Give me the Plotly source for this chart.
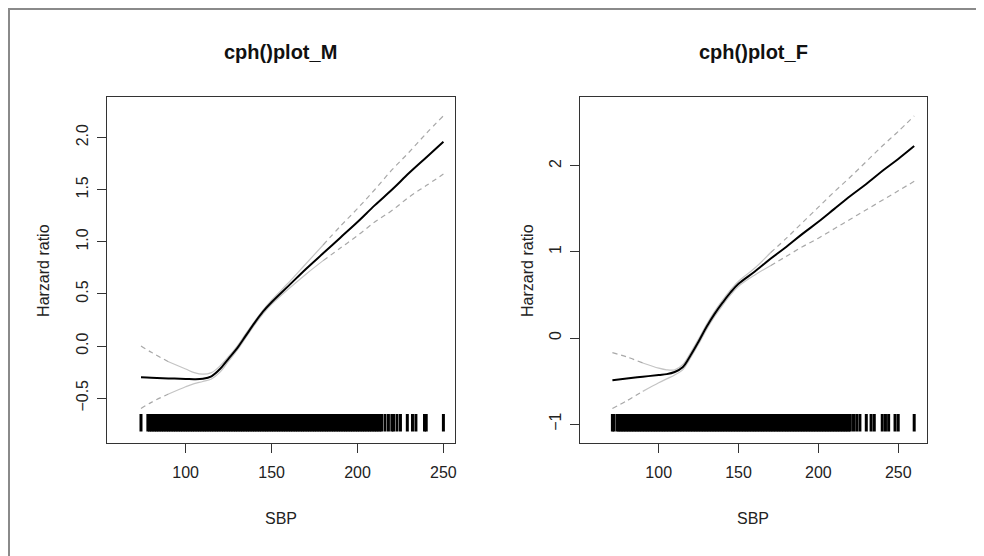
import plotly.graph_objects as go

# ---------------- data ----------------
# Male panel (cph()plot_M)
sbp_M = [74, 80, 90, 100, 105, 110, 115, 120, 125, 130, 135, 140, 145, 150,
         160, 170, 180, 190, 200, 210, 220, 230, 240, 250]
hr_M = [-0.30, -0.305, -0.31, -0.315, -0.318, -0.314, -0.29, -0.22, -0.12, -0.02,
        0.10, 0.22, 0.33, 0.42, 0.58, 0.74, 0.89, 1.04, 1.19, 1.35, 1.50, 1.66,
        1.81, 1.96]
upper_M = [0.00, -0.06, -0.15, -0.22, -0.255, -0.27, -0.255, -0.19, -0.10, 0.00,
           0.12, 0.235, 0.345, 0.44, 0.61, 0.79, 0.97, 1.15, 1.32, 1.50, 1.69,
           1.86, 2.04, 2.21]
lower_M = [-0.60, -0.54, -0.46, -0.39, -0.36, -0.34, -0.315, -0.25, -0.145, -0.04,
           0.08, 0.20, 0.31, 0.40, 0.55, 0.69, 0.82, 0.94, 1.06, 1.19, 1.30,
           1.43, 1.54, 1.65]

# Female panel (cph()plot_F)
sbp_F = [71, 80, 90, 100, 105, 110, 115, 120, 125, 130, 135, 140, 145, 150,
         160, 170, 180, 190, 200, 210, 220, 230, 240, 250, 260]
hr_F = [-0.49, -0.47, -0.45, -0.43, -0.42, -0.395, -0.34, -0.20, -0.04, 0.13,
        0.28, 0.41, 0.53, 0.63, 0.77, 0.92, 1.06, 1.21, 1.35, 1.50, 1.65, 1.79,
        1.94, 2.08, 2.23]
upper_F = [-0.17, -0.22, -0.29, -0.35, -0.37, -0.37, -0.31, -0.17, -0.01, 0.16,
           0.31, 0.44, 0.56, 0.66, 0.81, 0.99, 1.16, 1.34, 1.52, 1.70, 1.87,
           2.05, 2.23, 2.40, 2.58]
lower_F = [-0.82, -0.73, -0.62, -0.52, -0.475, -0.43, -0.37, -0.23, -0.07, 0.10,
           0.25, 0.38, 0.50, 0.60, 0.73, 0.84, 0.95, 1.06, 1.16, 1.27, 1.38,
           1.49, 1.60, 1.71, 1.82]

# observed SBP values (rug)
rug_M = [74,
         78, 79, 80, 81, 82, 83, 84, 85, 86, 87, 88, 89, 90, 91, 92, 93, 94, 95, 96, 97,
         98, 99, 100, 101, 102, 103, 104, 105, 106, 107, 108, 109, 110, 111, 112, 113,
         114, 115, 116, 117, 118, 119, 120, 121, 122, 123, 124, 125, 126, 127, 128, 129,
         130, 131, 132, 133, 134, 135, 136, 137, 138, 139, 140, 141, 142, 143, 144, 145,
         146, 147, 148, 149, 150, 151, 152, 153, 154, 155, 156, 157, 158, 159, 160, 161,
         162, 163, 164, 165, 166, 167, 168, 169, 170, 171, 172, 173, 174, 175, 176, 177,
         178, 179, 180, 181, 182, 183, 184, 185, 186, 187, 188, 189, 190, 191, 192, 193,
         194, 195, 196, 197, 198, 199, 200, 201,
         202, 203, 204, 205, 206, 207, 208, 209, 210, 211, 212, 213, 214, 216, 218, 220,
         221, 223, 225, 229, 232, 234, 239, 240, 250]
rug_F = [71, 72, 74, 75, 76, 77,
         78, 79, 80, 81, 82, 83, 84, 85, 86, 87, 88, 89, 90, 91, 92, 93, 94, 95, 96, 97,
         98, 99, 100, 101, 102, 103, 104, 105, 106, 107, 108, 109, 110, 111, 112, 113,
         114, 115, 116, 117, 118, 119, 120, 121, 122, 123, 124, 125, 126, 127, 128, 129,
         130, 131, 132, 133, 134, 135, 136, 137, 138, 139, 140, 141, 142, 143, 144, 145,
         146, 147, 148, 149, 150, 151, 152, 153, 154, 155, 156, 157, 158, 159, 160, 161,
         162, 163, 164, 165, 166, 167, 168, 169, 170, 171, 172, 173, 174, 175, 176, 177,
         178, 179, 180, 181, 182, 183, 184, 185, 186, 187, 188, 189, 190, 191, 192, 193,
         194, 195, 196, 197, 198, 199, 200, 201, 202, 203,
         204, 205, 206, 207, 208, 209, 210, 211, 212, 213, 214, 215, 216, 217, 218, 219,
         220, 222, 224, 226, 230, 233, 235, 240, 242, 244, 248, 250, 260]

titles = ["cph()plot_M", "cph()plot_F"]
x_title = "SBP"
y_title = "Harzard ratio"
x_ticks = [100, 150, 200, 250]
y_ticks_M = [-0.5, 0.0, 0.5, 1.0, 1.5, 2.0]
y_ticks_F = [-1, 0, 1, 2]

# ---------------- layout geometry ----------------
W, H = 984, 556
OFF = 8  # page body margin of the html page


def px(x):
    return (x - OFF) / W


def py(y):
    return 1 - (y - OFF) / H


xr_M = [54.1, 256.8]
yr_M = [-0.93, 2.39]
xr_F = [50.6, 268.1]
yr_F = [-1.22, 2.80]
dom_M = [px(107), px(456)]
dom_F = [px(581), px(929)]
dom_y = [py(443), py(97)]

FONT = "Liberation Sans, Arial, sans-serif"

fig = go.Figure()


def split(xs, ys, keep):
    ox, oy = [], []
    for x, y in zip(xs, ys):
        ox.append(x)
        oy.append(y if keep(x) else None)
    return ox, oy


def add_panel(sbp, hr, up, lo, rug, yr, xa, ya, solid_lo, solid_hi):
    tail = lambda x: x <= solid_lo or x >= solid_hi
    mid = lambda x: solid_lo - 10 <= x <= solid_hi + 10
    for band in (up, lo):
        mx, my = split(sbp, band, mid)
        fig.add_trace(go.Scatter(x=mx, y=my, mode="lines", xaxis=xa, yaxis=ya,
                                 line=dict(color="#c4c4c4", width=1.2, shape="spline"),
                                 connectgaps=False, showlegend=False, hoverinfo="skip"))
        tx, ty = split(sbp, band, tail)
        fig.add_trace(go.Scatter(x=tx, y=ty, mode="lines", xaxis=xa, yaxis=ya,
                                 line=dict(color="#a8a8a8", width=1.2, dash="5px,4px",
                                           shape="spline"),
                                 connectgaps=False, showlegend=False, hoverinfo="skip"))
    fig.add_trace(go.Scatter(x=sbp, y=hr, mode="lines", xaxis=xa, yaxis=ya,
                             line=dict(color="#000000", width=2, shape="spline"),
                             showlegend=False, hoverinfo="skip"))
    span = yr[1] - yr[0]
    y0 = yr[0] + 0.033 * span
    y1 = yr[0] + 0.084 * span
    rx, ry = [], []
    for v in rug:
        rx += [v, v, None]
        ry += [y0, y1, None]
    fig.add_trace(go.Scatter(x=rx, y=ry, mode="lines", xaxis=xa, yaxis=ya,
                             line=dict(color="#000000", width=3),
                             showlegend=False, hoverinfo="skip"))


add_panel(sbp_M, hr_M, upper_M, lower_M, rug_M, yr_M, "x", "y", 95, 175)
add_panel(sbp_F, hr_F, upper_F, lower_F, rug_F, yr_F, "x2", "y2", 95, 165)

axis_common = dict(showline=True, mirror=True, linecolor="#333333", linewidth=1,
                   ticks="outside", ticklen=9, tickcolor="#333333", tickwidth=1,
                   showgrid=False, zeroline=False,
                   tickfont=dict(family=FONT, size=16, color="#222222"))

fig.update_layout(
    width=W, height=H,
    margin=dict(l=0, r=0, t=0, b=0),
    paper_bgcolor="white", plot_bgcolor="white",
    xaxis=dict(domain=dom_M, range=xr_M, tickvals=x_ticks, anchor="y",
               ticklabelstandoff=6, **axis_common),
    yaxis=dict(domain=dom_y, range=yr_M, tickvals=y_ticks_M, tickformat=".1f",
               tickangle=-90, anchor="x", ticklabelstandoff=2, **axis_common),
    xaxis2=dict(domain=dom_F, range=xr_F, tickvals=x_ticks, anchor="y2",
                ticklabelstandoff=6, **axis_common),
    yaxis2=dict(domain=dom_y, range=yr_F, tickvals=y_ticks_F, tickformat="d",
                tickangle=-90, anchor="x2", ticklabelstandoff=2, **axis_common),
)

centers = [(dom_M[0] + dom_M[1]) / 2, (dom_F[0] + dom_F[1]) / 2]
ylab_x = [px(43), px(528)]
ann = []
for i in range(2):
    ann.append(dict(text="<b>%s</b>" % titles[i], x=centers[i], y=py(52),
                    xref="paper", yref="paper", showarrow=False,
                    font=dict(family=FONT, size=20, color="#111111"),
                    xanchor="center", yanchor="middle"))
    ann.append(dict(text=x_title, x=centers[i], y=py(518),
                    xref="paper", yref="paper", showarrow=False,
                    font=dict(family=FONT, size=16, color="#222222"),
                    xanchor="center", yanchor="middle"))
    ann.append(dict(text=y_title, x=ylab_x[i], y=(dom_y[0] + dom_y[1]) / 2,
                    xref="paper", yref="paper", showarrow=False, textangle=-90,
                    font=dict(family=FONT, size=16, color="#222222"),
                    xanchor="center", yanchor="middle"))
fig.update_layout(annotations=ann)

fig.add_shape(type="line", xref="paper", yref="paper", x0=0, x1=1,
              y0=py(9), y1=py(9), line=dict(color="#8a8a8a", width=2))
fig.add_shape(type="line", xref="paper", yref="paper", x0=px(9), x1=px(9),
              y0=0, y1=py(9), line=dict(color="#8a8a8a", width=2))

fig.write_html("out.html")
